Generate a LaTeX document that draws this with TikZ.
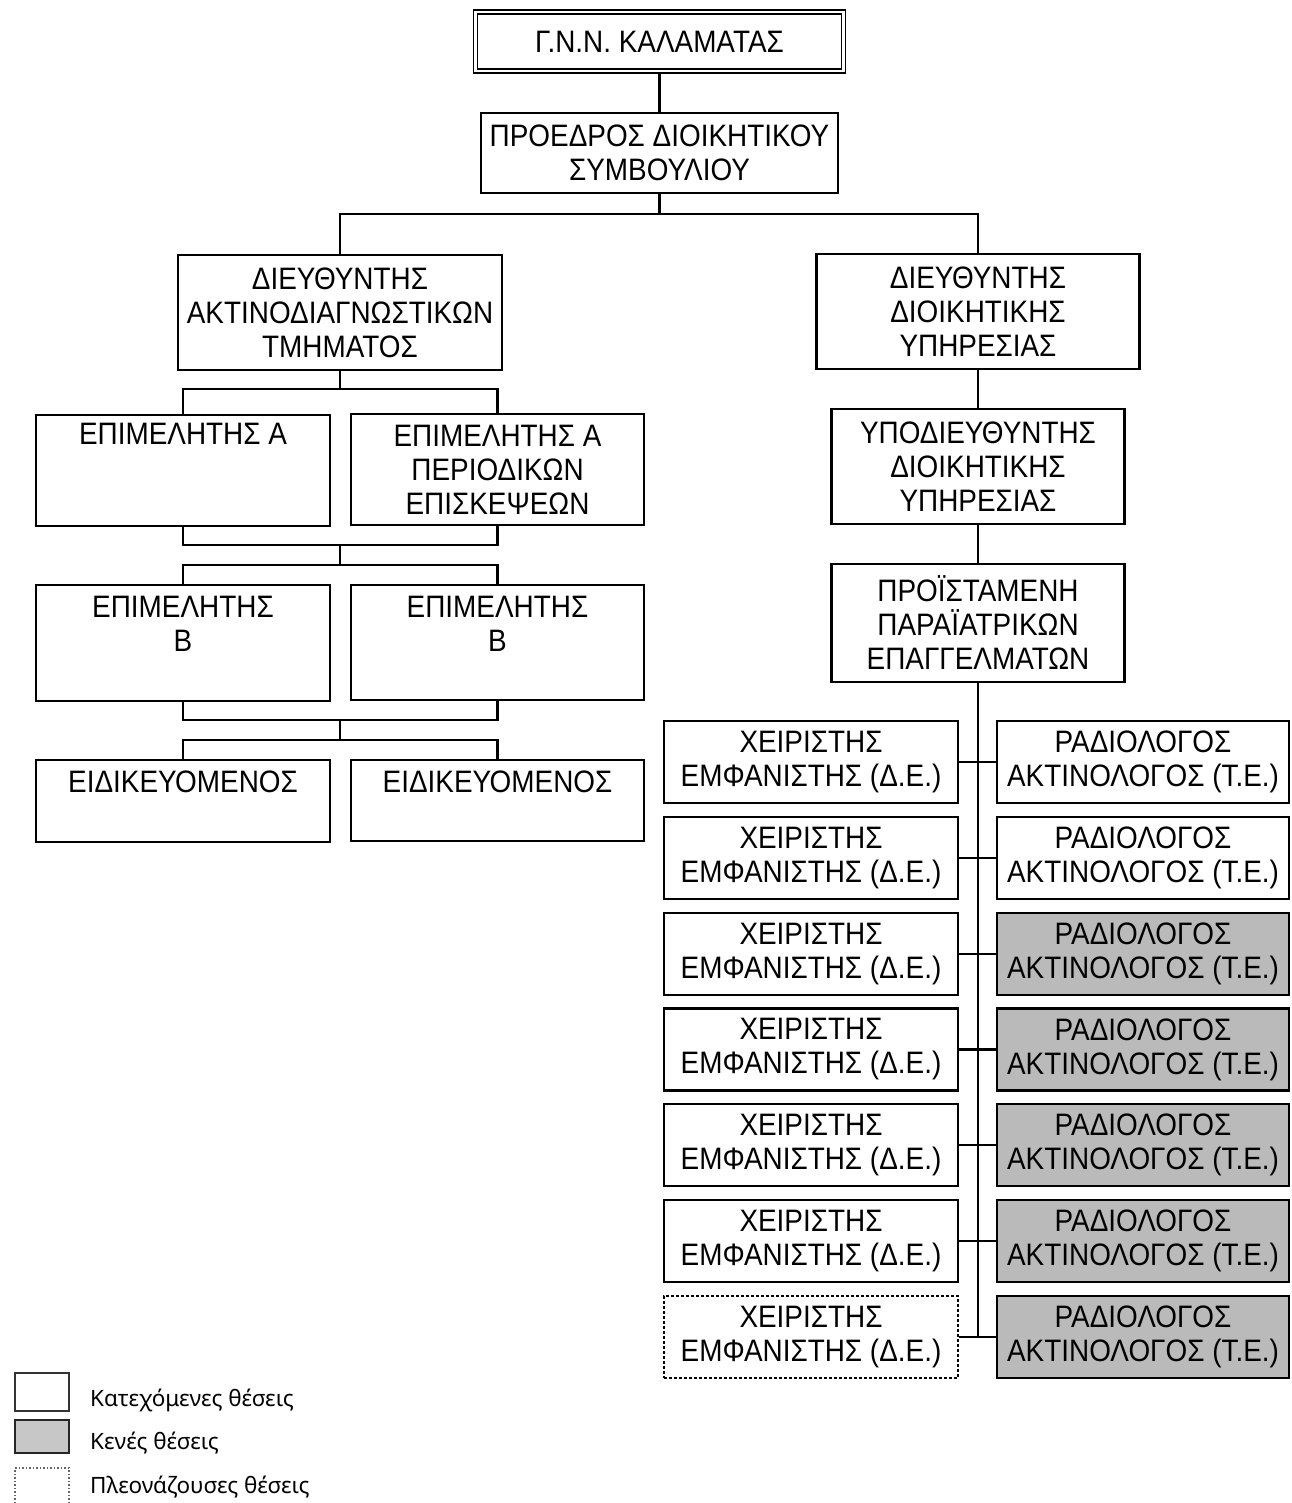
\documentclass[tikz,border=0pt]{standalone}
\usepackage{fontspec}
\setmainfont{Liberation Sans}[FakeStretch=0.9]
\newfontfamily\legfont{Noto Sans}
\newcommand\orgfont{\fontsize{31}{34}\selectfont}
\tikzset{
  box/.style={draw=black, line width=2.2pt, rectangle, inner sep=0pt, align=center, font=\orgfont, fill=white},
  vacant/.style={box, fill=black!27},
  surplus/.style={box, line width=1.4pt, dash pattern=on 3pt off 2pt},
  topbox/.style={box, double, double distance=2.6pt, line width=1.5pt},
  txt/.style={inner sep=0pt, align=center, font=\orgfont},
  conn/.style={line width=2.2pt, black},
  legtxt/.style={inner sep=0pt, anchor=west, font=\legfont\fontsize{22.5}{26}\selectfont},
}
\begin{document}
\begin{tikzpicture}[x=1pt,y=-1pt]
\useasboundingbox (0,0) rectangle (1291,1503);
% top
\node[topbox, minimum width=368, minimum height=59] (top) at (659.5,41.5) {Γ.Ν.Ν. ΚΑΛΑΜΑΤΑΣ};
\node[box, minimum width=357, minimum height=80] (pres) at (659.5,153) {ΠΡΟΕΔΡΟΣ ΔΙΟΙΚΗΤΙΚΟΥ\\ΣΥΜΒΟΥΛΙΟΥ};
\node[box, minimum width=324, minimum height=115] (ldir) at (340,312.5) {ΔΙΕΥΘΥΝΤΗΣ\\ΑΚΤΙΝΟΔΙΑΓΝΩΣΤΙΚΩΝ\\ΤΜΗΜΑΤΟΣ};
\node[box, minimum width=323, minimum height=115] (rdir) at (978,311.5) {ΔΙΕΥΘΥΝΤΗΣ\\ΔΙΟΙΚΗΤΙΚΗΣ\\ΥΠΗΡΕΣΙΑΣ};
% left branch
\node[box, minimum width=294, minimum height=111] (epA) at (183,470.5) {};
\node[txt, anchor=north] (epAt) at ([yshift=-9pt]epA.north) {ΕΠΙΜΕΛΗΤΗΣ Α};
\node[box, minimum width=293, minimum height=111] (epAP) at (497.5,469.5) {ΕΠΙΜΕΛΗΤΗΣ Α\\ΠΕΡΙΟΔΙΚΩΝ\\ΕΠΙΣΚΕΨΕΩΝ};
\node[box, minimum width=294, minimum height=116] (epB1) at (183,643) {};
\node[txt, anchor=north] (epB1t) at ([yshift=-12pt]epB1.north) {ΕΠΙΜΕΛΗΤΗΣ\\Β};
\node[box, minimum width=293, minimum height=115] (epB2) at (497.5,642.5) {};
\node[txt, anchor=north] (epB2t) at ([yshift=-12pt]epB2.north) {ΕΠΙΜΕΛΗΤΗΣ\\Β};
\node[box, minimum width=294, minimum height=82] (eid1) at (183,801) {};
\node[txt, anchor=north] (eid1t) at ([yshift=-12pt]eid1.north) {ΕΙΔΙΚΕΥΟΜΕΝΟΣ};
\node[box, minimum width=293, minimum height=81] (eid2) at (497.5,800.5) {};
\node[txt, anchor=north] (eid2t) at ([yshift=-12pt]eid2.north) {ΕΙΔΙΚΕΥΟΜΕΝΟΣ};
% right branch
\node[box, minimum width=293, minimum height=115] (sub) at (978,466.5) {ΥΠΟΔΙΕΥΘΥΝΤΗΣ\\ΔΙΟΙΚΗΤΙΚΗΣ\\ΥΠΗΡΕΣΙΑΣ};
\node[box, minimum width=293, minimum height=118] (head) at (978,623) {ΠΡΟΪΣΤΑΜΕΝΗ\\ΠΑΡΑΪΑΤΡΙΚΩΝ\\ΕΠΑΓΓΕΛΜΑΤΩΝ};
% rows
\foreach \i/\ls/\rs in {1/box/box,2/box/box,3/box/vacant,4/box/vacant,5/box/vacant,6/box/vacant,7/surplus/vacant}{
  \node[\ls, minimum width=294, minimum height=82] (L\i) at (811,{762+95.8*(\i-1)}) {ΧΕΙΡΙΣΤΗΣ\\ΕΜΦΑΝΙΣΤΗΣ (Δ.Ε.)};
  \node[\rs, minimum width=292, minimum height=82] (R\i) at (1143,{762+95.8*(\i-1)}) {ΡΑΔΙΟΛΟΓΟΣ\\ΑΚΤΙΝΟΛΟΓΟΣ (Τ.Ε.)};
}
% connectors
\coordinate (j0) at (659.5,214);
\draw[conn] (top.south) -- (pres.north);
\draw[conn] (pres.south) -- (j0);
\draw[conn] (ldir.north) -- (ldir.north |- j0) -- (rdir.north |- j0) -- (rdir.north);
\coordinate (a1) at (340,389);
\draw[conn] (ldir.south) -- (a1);
\draw[conn] (epA.north) -- (epA.north |- a1) -- (epAP.north |- a1) -- (epAP.north);
\coordinate (b1) at (340,545);
\coordinate (b2) at (340,565);
\draw[conn] (epA.south) -- (epA.south |- b1) -- (epAP.south |- b1) -- (epAP.south);
\draw[conn] (b1) -- (b2);
\draw[conn] (epB1.north) -- (epB1.north |- b2) -- (epB2.north |- b2) -- (epB2.north);
\coordinate (b3) at (340,720);
\coordinate (b4) at (340,740);
\draw[conn] (epB1.south) -- (epB1.south |- b3) -- (epB2.south |- b3) -- (epB2.south);
\draw[conn] (b3) -- (b4);
\draw[conn] (eid1.north) -- (eid1.north |- b4) -- (eid2.north |- b4) -- (eid2.north);
\draw[conn] (rdir.south) -- (sub.north);
\draw[conn] (sub.south) -- (head.north);
\coordinate (vend) at (978,{762+95.8*6});
\draw[conn] (head.south) -- (vend);
\foreach \i in {1,...,7}{
  \draw[conn] (L\i.east) -- (R\i.west);
}
% legend
\node[draw=black!80, line width=2.5pt, fill=white, minimum width=54, minimum height=38, inner sep=0pt] (lg1) at (42,1392) {};
\node[legtxt] (lg1t) at (90,1400) {Κατεχόμενες θέσεις};
\node[draw=black!85, line width=2.5pt, fill=black!22, minimum width=54, minimum height=33, inner sep=0pt] (lg2) at (42,1436.5) {};
\node[legtxt] (lg2t) at (90,1443) {Κενές θέσεις};
\draw[black!60, line width=1.5pt, dotted] (15,1503) -- (15,1468) -- (69,1468) -- (69,1503);
\node[legtxt] (lg3t) at (90,1487) {Πλεονάζουσες θέσεις};
\end{tikzpicture}
\end{document}
